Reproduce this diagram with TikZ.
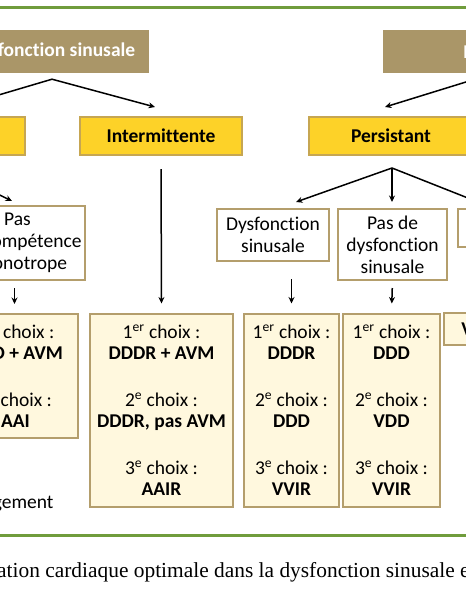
\documentclass[tikz,border=0pt]{standalone}
\usepackage{fontspec}
\setmainfont{Carlito}[Ligatures=NoCommon]
\newfontfamily\captionfont{Liberation Serif}
\usepackage{xcolor}
\usepackage{tikz}
\usetikzlibrary{arrows.meta}
\definecolor{boxbrown}{RGB}{170,150,104}
\definecolor{phaseyellow}{RGB}{253,210,40}
\definecolor{phaseedge}{RGB}{198,166,82}
\definecolor{condedge}{RGB}{180,158,108}
\definecolor{choicecream}{RGB}{255,248,222}
\definecolor{rulegreen}{RGB}{112,156,60}
\newcommand{\diagfont}{\fontsize{19.5}{21}\selectfont}

\begin{document}
\begin{tikzpicture}[x=1pt, y=-1pt,
    brownbox/.style={fill=boxbrown, text=white, font=\diagfont\bfseries, minimum height=43pt, inner sep=0pt},
    phase/.style={draw=phaseedge, line width=2pt, fill=phaseyellow, font=\diagfont\bfseries, minimum width=162pt, minimum height=38pt, inner sep=0pt},
    cond/.style={draw=condedge, line width=2pt, fill=white, font=\fontsize{19.5}{22}\selectfont, align=center, inner sep=0pt},
    choice/.style={draw=condedge, line width=2pt, fill=choicecream, font=\diagfont, align=center, inner sep=0pt},
    arrow/.style={-{Stealth[length=6.5pt,width=6pt]}, line width=1.5pt},
    rule/.style={draw=rulegreen, line width=3pt}
]
\useasboundingbox (0,0) rectangle (466,600);

% green rules
\draw[rule] (-10,7) -- (480,7);
\draw[rule] (-10,535.5) -- (480,535.5);

% top level
\node[brownbox, minimum width=194pt] (dysf) at (52,51.5) {Dysfonction sinusale};
\node[brownbox, minimum width=222pt] (bav) at (494,51.5) {Bloc AV};

% type of disorder
\node[phase] (perm) at (-56,136) {Permanente};
\node[phase] (inter) at (161,136) {Intermittente};
\node[phase, minimum width=164pt] (pers) at (391,136) {Persistant};

% conditions
\node[cond, minimum width=135pt, minimum height=74pt] (pinc) at (17.5,243) {Pas\\d'incompétence\\chronotrope};
\node[cond, minimum width=112pt, minimum height=52pt] (dsin) at (273,235) {Dysfonction\\sinusale};
\node[cond, minimum width=109pt, minimum height=71pt] (pdsin) at (392.5,244.5) {Pas de\\dysfonction\\sinusale};
\node[cond, minimum width=104pt, minimum height=38pt] (fa) at (510,228) {FA};

% pacing choices
\node[choice, minimum width=125pt, minimum height=124pt] (c1) at (15.5,376)
  {1\textsuperscript{er} choix~:\\ \textbf{DDD + AVM}\\[26pt]
   2\textsuperscript{e} choix~:\\ \textbf{AAI}};
\node[choice, minimum width=143pt, minimum height=193pt] (c2) at (161.5,410)
  {1\textsuperscript{er} choix~:\\ \textbf{DDDR + AVM}\\[26pt]
   2\textsuperscript{e} choix~:\\ \textbf{DDDR, pas AVM}\\[26pt]
   3\textsuperscript{e} choix~:\\ \textbf{AAIR}};
\node[choice, minimum width=95pt, minimum height=193pt] (c3) at (291.5,410)
  {1\textsuperscript{er} choix~:\\ \textbf{DDDR}\\[26pt]
   2\textsuperscript{e} choix~:\\ \textbf{DDD}\\[26pt]
   3\textsuperscript{e} choix~:\\ \textbf{VVIR}};
\node[choice, minimum width=97pt, minimum height=193pt] (c4) at (391.5,410)
  {1\textsuperscript{er} choix~:\\ \textbf{DDD}\\[26pt]
   2\textsuperscript{e} choix~:\\ \textbf{VDD}\\[26pt]
   3\textsuperscript{e} choix~:\\ \textbf{VVIR}};
\node[choice, minimum width=74pt, minimum height=32pt] (c5) at (481,329) {\textbf{VVIR}};

% branch points and arrow ends
\coordinate (dysfapex) at ([yshift=-6pt]dysf.south);
\coordinate (bavapex) at ([xshift=-19pt,yshift=-6pt]bav.south);
\coordinate (permapex) at ([yshift=-12pt]perm.south);
\coordinate (persapex) at ([xshift=1pt,yshift=-12pt]pers.south);
\coordinate (permtop) at ([xshift=14pt,yshift=9pt]perm.north);
\coordinate (intertop) at ([xshift=-6pt,yshift=9pt]inter.north);
\coordinate (perstop) at ([xshift=-6pt,yshift=9pt]pers.north);
\coordinate (pinctop) at ([xshift=-5.5pt,yshift=4pt]pinc.north);
\coordinate (dsintop) at ([xshift=23pt,yshift=6pt]dsin.north);
\coordinate (pdsintop) at ([xshift=-0.5pt,yshift=6pt]pdsin.north);
\coordinate (fatop) at ([xshift=-32pt,yshift=6pt]fa.north);

\draw[arrow] (dysfapex) -- (permtop);
\draw[arrow] (dysfapex) -- (intertop);
\draw[arrow] (bavapex) -- (perstop);
\draw[arrow] (permapex) -- (pinctop);
\draw[arrow] (persapex) -- (dsintop);
\draw[arrow] (persapex) -- (pdsintop);
\draw[arrow] (persapex) -- (fatop);

\draw[arrow, shorten <=7pt, shorten >=9pt] ([xshift=-3pt]pinc.south) -- ([xshift=-1pt]c1.north);
\draw[arrow, shorten <=13pt, shorten >=9pt] (inter.south) -- (c2.north);
\draw[arrow, shorten <=17pt, shorten >=9pt] (dsin.south -| c3.north) -- (c3.north);
\draw[arrow, shorten <=7pt, shorten >=9pt] (pdsin.south) -- (c4.north);
\draw[arrow, shorten <=7pt, shorten >=9pt] (fa.south -| c5.north) -- (c5.north);

\node[anchor=base east, font=\diagfont] (note) at (57,508) {Changement};
\node[anchor=base west, inner sep=0pt, font=\captionfont\fontsize{21.4}{24}\selectfont] (caption) at (-3,577)
  {\llap{Stimul}ation cardiaque optimale dans la dysfonction sinusale et les troubles de conduction};

\end{tikzpicture}
\end{document}
